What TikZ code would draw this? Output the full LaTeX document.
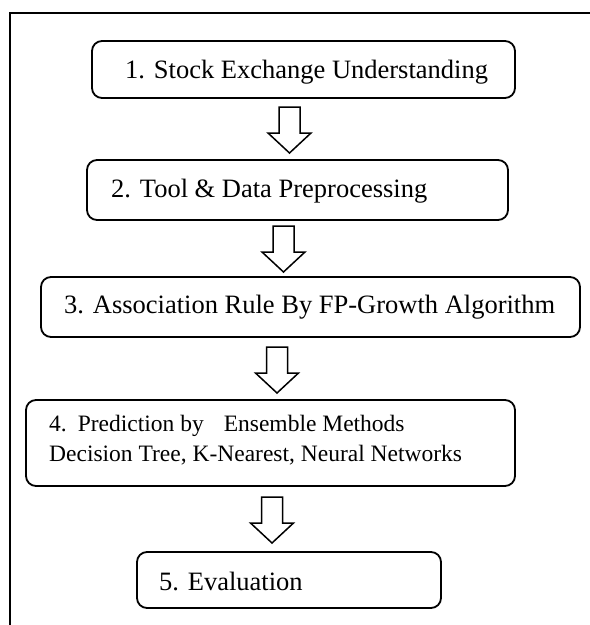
\documentclass[tikz,border=0pt]{standalone}
\usepackage{fontspec}
\setmainfont{Liberation Serif}
\begin{document}
\begin{tikzpicture}[x=1pt,y=-1pt,
  stage/.style={draw, line width=1.8pt, rounded corners=10pt, inner sep=0pt},
  stagetext/.style={inner sep=0pt, anchor=base west, font=\fontsize{26.5}{30}\selectfont},
  smalltext/.style={stagetext, font=\fontsize{23.5}{30}\selectfont},
  flowarrow/.style={draw, line width=1.5pt, fill=white, line join=miter},
  downarrow/.pic={\path[flowarrow] (-10.5,0) -- (10.5,0) -- (10.5,26) -- (21.5,26)
      -- (0,46) -- (-21.5,26) -- (-10.5,26) -- cycle;}]
\useasboundingbox (0,0) rectangle (590,625);

% page frame (left and top edges)
\draw[line width=1.4pt] (10,625) -- (10,13) -- (590,13);

% process stages
\node[stage, minimum width=423pt, minimum height=57pt] (b1) at (303.5,69.5) {};
\node[stage, minimum width=421pt, minimum height=60pt] (b2) at (297.5,190) {};
\node[stage, minimum width=539pt, minimum height=60pt] (b3) at (310.5,307) {};
\node[stage, minimum width=489pt, minimum height=86pt] (b4) at (270.5,443) {};
\node[stage, minimum width=304pt, minimum height=56pt] (b5) at (289,580) {};

\node[stagetext] (t1) at (125,78) {1. Stock Exchange Understanding};
\node[stagetext] (t2) at (111,197) {2. Tool \& Data Preprocessing};
\node[stagetext] (t3) at (64,313) {3. Association Rule By FP-Growth Algorithm};
\node[smalltext] (t4a) at (49,431) {4.\hspace{11pt}Prediction by\hspace{20pt}Ensemble Methods};
\node[smalltext] (t4b) at (49,461) {Decision Tree, K-Nearest, Neural Networks};
\node[stagetext] (t5) at (159,590) {5. Evaluation};

% block arrows between stages
\coordinate (a1) at (289.5,107);
\coordinate (a2) at (283.5,226);
\coordinate (a3) at (277,347);
\coordinate (a4) at (272,497);
\pic at (a1) {downarrow};
\pic at (a2) {downarrow};
\pic at (a3) {downarrow};
\pic at (a4) {downarrow};
\end{tikzpicture}
\end{document}
